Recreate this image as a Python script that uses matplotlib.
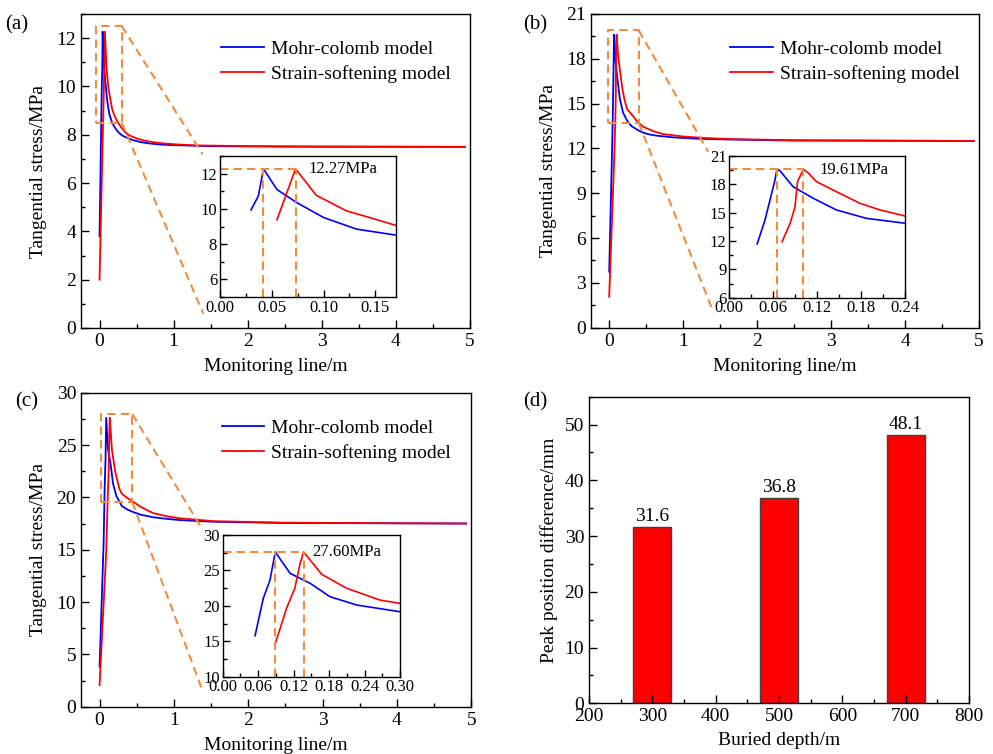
import numpy as np
import matplotlib
matplotlib.use('Agg')
import matplotlib.pyplot as plt
from matplotlib.ticker import MultipleLocator

plt.rcParams['font.family'] = ['Liberation Serif', 'DejaVu Serif']

# ---- data ----
# (a) 300 m
a_mc_x = [0.0, 0.030, 0.037, 0.042, 0.055, 0.074, 0.100, 0.132, 0.170, 0.20, 0.25, 0.30, 0.35, 0.45, 0.55, 0.65, 0.8, 1.0, 1.5, 2.5, 4.93]
a_mc_y = [3.8, 9.94, 10.73, 12.27, 11.10, 10.36, 9.51, 8.85, 8.51, 8.33, 8.12, 7.98, 7.90, 7.78, 7.70, 7.65, 7.60, 7.57, 7.53, 7.51, 7.50]
a_ss_x = [0.0, 0.055, 0.073, 0.093, 0.122, 0.145, 0.170, 0.20, 0.25, 0.30, 0.35, 0.40, 0.50, 0.60, 0.75, 0.90, 1.1, 1.3, 2.0, 3.0, 4.93]
a_ss_y = [2.0, 9.38, 12.27, 10.77, 9.89, 9.50, 9.06, 8.80, 8.50, 8.28, 8.10, 7.98, 7.85, 7.76, 7.68, 7.63, 7.59, 7.56, 7.53, 7.51, 7.50]

# (b) 500 m
b_mc_x = [0.0, 0.038, 0.0487, 0.0555, 0.0623, 0.065, 0.069, 0.087, 0.1145, 0.146, 0.187, 0.24, 0.30, 0.38, 0.46, 0.55, 0.65, 0.87, 1.2, 1.6, 2.5, 4.93]
b_mc_y = [3.75, 11.69, 14.23, 16.34, 18.46, 19.61, 19.45, 17.75, 16.52, 15.29, 14.40, 13.88, 13.50, 13.25, 13.05, 12.93, 12.85, 12.74, 12.65, 12.60, 12.53, 12.50]
b_ss_x = [0.0, 0.072, 0.083, 0.0896, 0.093, 0.101, 0.108, 0.119, 0.146, 0.178, 0.2055, 0.24, 0.30, 0.38, 0.46, 0.60, 0.73, 1.0, 1.23, 1.6, 2.5, 4.93]
b_ss_y = [2.07, 11.93, 13.88, 15.64, 18.28, 19.61, 19.17, 18.28, 17.22, 16.00, 15.29, 14.65, 14.30, 13.80, 13.45, 13.15, 12.96, 12.80, 12.72, 12.63, 12.55, 12.50]

# (c) 700 m
c_mc_x = [0.0, 0.0547, 0.0687, 0.080, 0.089, 0.114, 0.148, 0.1815, 0.227, 0.30, 0.37, 0.45, 0.55, 0.72, 0.90, 1.08, 1.53, 2.5, 4.93]
c_mc_y = [3.82, 15.78, 21.06, 23.64, 27.60, 24.59, 23.18, 21.29, 20.11, 19.17, 18.85, 18.60, 18.35, 18.10, 17.95, 17.83, 17.67, 17.55, 17.50]
c_ss_x = [0.0, 0.090, 0.108, 0.122, 0.131, 0.137, 0.1675, 0.21, 0.266, 0.30, 0.37, 0.45, 0.55, 0.72, 0.90, 1.08, 1.53, 2.5, 4.93]
c_ss_y = [2.07, 14.93, 19.65, 22.47, 26.00, 27.60, 24.45, 22.47, 20.82, 20.35, 19.95, 19.60, 19.10, 18.50, 18.20, 18.00, 17.73, 17.58, 17.50]

# (d) peak position difference
depths = [300, 500, 700]
peak_diff = [31.6, 36.8, 48.1]

orange = '#F28C3C'
blue = '#0000FF'
red = '#FF0000'
dash = (0, (4, 2.5))

W, H = 993, 754
fig = plt.figure(figsize=(W / 100, H / 100), dpi=100)


def px_ax(l, t, r, b):
    return fig.add_axes([l / W, 1 - b / H, (r - l) / W, (b - t) / H])


def style(ax, fs, major=6, minor=3):
    ax.tick_params(which='both', direction='in', top=False, right=False, labelsize=fs)
    ax.tick_params(which='major', length=major, width=1)
    ax.tick_params(which='minor', length=minor, width=1)
    for s in ax.spines.values():
        s.set_linewidth(1.0)


panels = [
    dict(box=(81, 14, 470, 328), ins=(220, 156, 396, 297), lab='(a)', labpos=(5, 25),
         mc=(a_mc_x, a_mc_y), ss=(a_ss_x, a_ss_y), ylim=(0, 13), ymaj=2, ymin=1,
         ilim=(0, 0.17, 5, 13), ixmaj=0.05, ixmin=0.025, iymin=1,
         iyticks=[6, 8, 10, 12], peak=12.27, px=(0.042, 0.073), ptxt=(0.085, 12.25),
         ptext='12.27MPa', rect=(-0.05, 0.30, 8.5, 12.5),
         conn=((1.39, 7.2), (1.40, 0.6))),
    dict(box=(590.7, 14, 979, 327.7), ins=(729.3, 156, 905.3, 297.7), lab='(b)', labpos=(523, 25),
         mc=(b_mc_x, b_mc_y), ss=(b_ss_x, b_ss_y), ylim=(0, 21), ymaj=3, ymin=1.5,
         ilim=(0, 0.24, 6, 21), ixmaj=0.06, ixmin=0.03, iymin=1.5,
         iyticks=[6, 9, 12, 15, 18, 21], peak=19.61, px=(0.065, 0.101), ptxt=(0.123, 19.52),
         ptext='19.61MPa', rect=(-0.02, 0.40, 13.7, 19.9),
         conn=((1.34, 11.78), (1.41, 1.03))),
    dict(box=(81, 392.7, 471.3, 706.7), ins=(222.7, 535, 400, 676.7), lab='(c)', labpos=(15, 402),
         mc=(c_mc_x, c_mc_y), ss=(c_ss_x, c_ss_y), ylim=(0, 30), ymaj=5, ymin=2.5,
         ilim=(0, 0.30, 10, 30), ixmaj=0.06, ixmin=0.03, iymin=2.5,
         iyticks=[10, 15, 20, 25, 30], peak=27.60, px=(0.089, 0.137), ptxt=(0.152, 27.64),
         ptext='27.60MPa', rect=(0.02, 0.44, 19.55, 27.95),
         conn=((1.39, 16.87), (1.39, 1.43))),
]

for p in panels:
    ax = px_ax(*p['box'])
    ax.plot(*p['mc'], color=blue, lw=1.3, label='Mohr-colomb model')
    ax.plot(*p['ss'], color=red, lw=1.3, label='Strain-softening model')
    ax.set_xlim(-0.25, 5)
    ax.set_ylim(*p['ylim'])
    ax.xaxis.set_major_locator(MultipleLocator(1))
    ax.xaxis.set_minor_locator(MultipleLocator(0.5))
    ax.yaxis.set_major_locator(MultipleLocator(p['ymaj']))
    ax.yaxis.set_minor_locator(MultipleLocator(p['ymin']))
    style(ax, 14)
    ax.set_xlabel('Monitoring line/m', fontsize=14)
    ax.set_ylabel('Tangential stress/MPa', fontsize=14)
    ax.xaxis.set_label_coords(0.5, -0.095)
    ax.yaxis.set_label_coords(-0.088, 0.5)
    ax.legend(loc='upper left', bbox_to_anchor=(0.36, 0.915), frameon=False, fontsize=14,
              handlelength=2.2, handletextpad=0.35, labelspacing=0.35,
              borderpad=0, borderaxespad=0)

    # zoom box and connector lines
    x0, x1, y0, y1 = p['rect']
    ax.plot([x0, x1, x1, x0, x0], [y0, y0, y1, y1, y0], color=orange, lw=1.5,
            ls=dash, clip_on=False)
    (ux, uy), (lx, ly) = p['conn']
    ax.plot([x1, ux], [y1, uy], color=orange, lw=1.5, ls=dash, clip_on=False)
    ax.plot([x1, lx], [y0, ly], color=orange, lw=1.5, ls=dash, clip_on=False)

    fig.text(p['labpos'][0] / W, 1 - p['labpos'][1] / H, p['lab'], fontsize=15,
             ha='left', va='center')

    # inset
    ia = px_ax(*p['ins'])
    mx, my = p['mc']
    sx, sy = p['ss']
    ia.plot(mx[1:], my[1:], color=blue, lw=1.2)
    ia.plot(sx[1:], sy[1:], color=red, lw=1.2)
    ix0, ix1, iy0, iy1 = p['ilim']
    ia.set_xlim(ix0, ix1)
    ia.set_ylim(iy0, iy1)
    ia.xaxis.set_major_locator(MultipleLocator(p['ixmaj']))
    ia.xaxis.set_minor_locator(MultipleLocator(p['ixmin']))
    ia.set_yticks(p['iyticks'])
    ia.yaxis.set_minor_locator(MultipleLocator(p['iymin']))
    ia.xaxis.set_major_formatter(plt.FormatStrFormatter('%.2f'))
    style(ia, 12, major=5, minor=3)
    ia.tick_params(axis='x', pad=2)
    ia.tick_params(axis='y', pad=2)
    bx, rx = p['px']
    ia.plot([ix0, rx], [p['peak'], p['peak']], color=orange, lw=1.5, ls=dash)
    ia.plot([bx, bx], [iy0, p['peak']], color=orange, lw=1.5, ls=dash)
    ia.plot([rx, rx], [iy0, p['peak']], color=orange, lw=1.5, ls=dash)
    ia.text(p['ptxt'][0], p['ptxt'][1], p['ptext'], fontsize=12, ha='left', va='center')

# (d) bar chart
axd = px_ax(589, 396.7, 969, 703.3)
axd.bar(depths, peak_diff, width=60, color=red, edgecolor='#404040', linewidth=1)
for d, v in zip(depths, peak_diff):
    axd.text(d, v + 0.3, f'{v:.1f}', ha='center', va='bottom', fontsize=14)
axd.set_xlim(200, 800)
axd.set_ylim(0, 55)
axd.xaxis.set_major_locator(MultipleLocator(100))
axd.xaxis.set_minor_locator(MultipleLocator(50))
axd.yaxis.set_major_locator(MultipleLocator(10))
axd.yaxis.set_minor_locator(MultipleLocator(5))
style(axd, 14)
axd.set_xlabel('Buried depth/m', fontsize=14)
axd.set_ylabel('Peak position difference/mm', fontsize=14)
axd.xaxis.set_label_coords(0.5, -0.093)
axd.yaxis.set_label_coords(-0.082, 0.5)
fig.text(523 / W, 1 - 402 / H, '(d)', fontsize=15, ha='left', va='center')

fig.savefig('out.png', dpi=100)
